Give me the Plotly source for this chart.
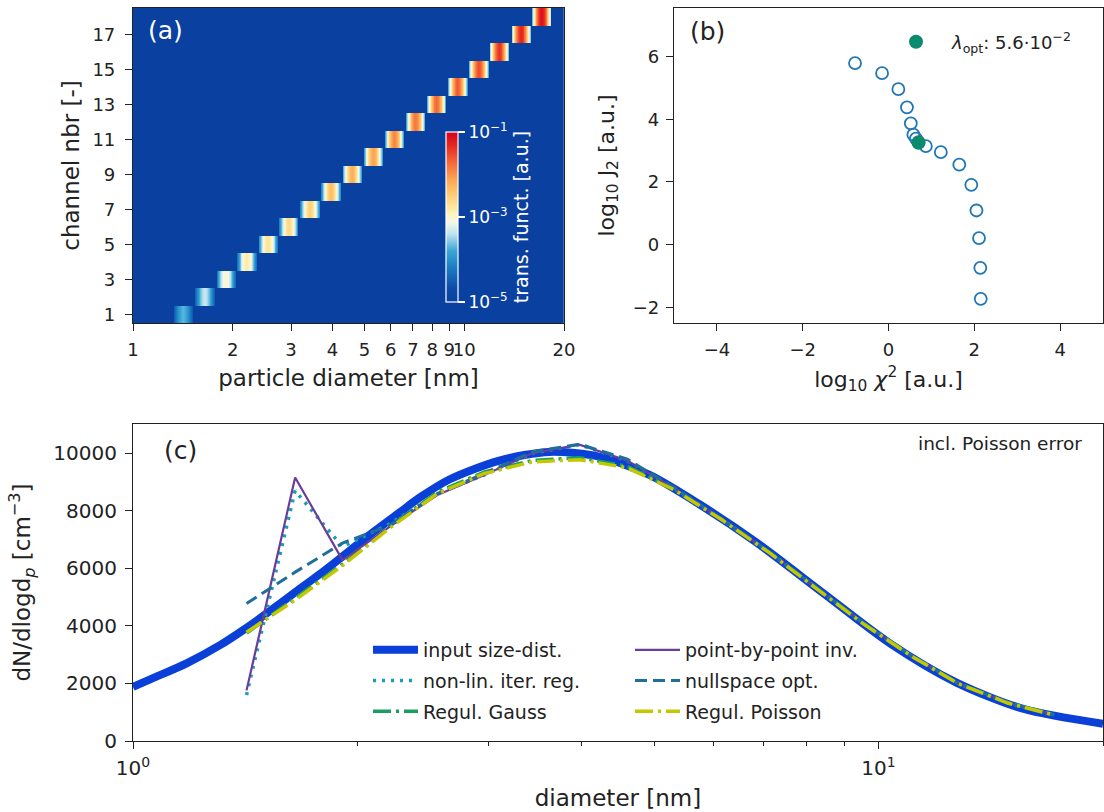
import numpy as np
import plotly.graph_objects as go

# ---------------- data ----------------
# (a) channel transfer functions
channel_nbr = list(range(1, 19))
channel_center_nm = [1.42, 1.65, 1.91, 2.21, 2.56, 2.96, 3.43, 3.97, 4.60,
                     5.33, 6.17, 7.15, 8.27, 9.58, 11.1, 12.8, 14.9, 17.2]
channel_peak_log = [-3.7, -3.35, -3.0, -2.8, -2.7, -2.6, -2.5, -2.3, -2.2,
                    -2.1, -1.9, -1.8, -1.7, -1.6, -1.5, -1.35, -1.25, -1.1]
channel_edge_log = [-4.6, -4.5, -4.4, -4.3, -4.2, -4.2, -4.1, -4.1, -4.0,
                    -4.0, -4.0, -3.9, -3.9, -3.9, -3.8, -3.8, -3.7, -3.7]
# kernel shape across one channel: offset in decades of diameter and
# fraction of the way from edge level to peak level
kernel_offset_dec = [-0.029, -0.022, -0.0145, -0.007, 0.0, 0.007, 0.0145, 0.022, 0.029]
kernel_frac = [0.0, 0.35, 0.7, 0.92, 1.0, 0.92, 0.7, 0.35, 0.0]
diam_ticks_a = [1, 2, 3, 4, 5, 6, 7, 8, 9, 10, 20]

# (b) L-curve
chi2_log = [-0.78, -0.15, 0.23, 0.43, 0.52, 0.58, 0.64, 0.70, 0.87,
            1.22, 1.65, 1.93, 2.05, 2.11, 2.14, 2.15]
j2_log = [5.79, 5.47, 4.96, 4.38, 3.87, 3.51, 3.38, 3.27, 3.14,
          2.95, 2.55, 1.91, 1.09, 0.21, -0.74, -1.73]
opt_chi2_log = [0.70]
opt_j2_log = [3.25]

# (c) size distributions
input_d = [1.00, 1.06, 1.18, 1.31, 1.41, 1.51, 1.64, 1.78, 1.87, 2.08, 2.28, 2.42,
           2.66, 3.10, 3.62, 4.23, 4.93, 5.75, 6.86, 8.42, 10.35, 12.72, 15.62, 20.0]
input_n = [1880, 2170, 2700, 3340, 3880, 4430, 5120, 5800, 6230, 7180, 7950, 8450,
           9100, 9750, 10050, 9880, 9250, 8230, 6900, 5150, 3400, 2030, 1120, 600]

inv_d = channel_center_nm
pbp_n = [1760, 9160, 6290, 7450, 8550, 9250, 10000, 10300, 9750,
         8780, 7700, 6550, 5300, 4060, 2940, 2000, 1330, 910]
nonlin_n = [1600, 8700, 6750, 7550, 8600, 9250, 10000, 10300, 9750,
            8780, 7700, 6550, 5300, 4060, 2940, 2000, 1330, 910]
nullspace_n = [4780, 5870, 6880, 7500, 8600, 9300, 10050, 10320, 9800,
               8800, 7700, 6550, 5300, 4060, 2940, 2000, 1330, 910]
gauss_n = [3750, 4950, 6150, 7450, 8650, 9350, 9750, 9850, 9550,
           8750, 7700, 6550, 5300, 4060, 2940, 2000, 1330, 910]
poisson_n = [3780, 4900, 6100, 7400, 8600, 9300, 9700, 9780, 9500,
             8720, 7680, 6530, 5280, 4040, 2930, 1990, 1320, 900]

# ---------------- figure ----------------
W, H = 1104, 812
FONT = "DejaVu Sans"
INK = "#222222"


def fx(p):
    return p / W


def fy(p):
    return 1 - p / H


fig = go.Figure()

# transfer-function map on a fine log-diameter grid
xgrid = np.linspace(0, np.log10(20), 900)
zmap = []
for c, pk, ed in zip(channel_center_nm, channel_peak_log, channel_edge_log):
    rel = xgrid - np.log10(c)
    levels = ed + np.array(kernel_frac) * (pk - ed)
    row = np.interp(rel, kernel_offset_dec, levels, left=-5.0, right=-5.0)
    zmap.append(np.clip(row, -5.0, -1.0))

cscale = [[0.0, "#0a40a0"], [0.08, "#0d4aa8"], [0.2, "#1a7cc2"], [0.3, "#3aa6d6"],
          [0.4, "#bfe3f0"], [0.47, "#f4f8ea"], [0.52, "#fff3b8"], [0.62, "#fed17a"],
          [0.72, "#fca556"], [0.82, "#f4693a"], [0.92, "#e52a22"], [1.0, "#d4001c"]]

fig.add_trace(go.Heatmap(
    x=xgrid, y=channel_nbr, z=zmap, zmin=-5, zmax=-1, colorscale=cscale,
    xaxis="x", yaxis="y", hoverinfo="skip",
    colorbar=dict(
        x=fx(446), xanchor="left", y=fy(217), yanchor="middle",
        len=170, lenmode="pixels", thickness=12, thicknessmode="pixels",
        xpad=0, ypad=0, outlinecolor="white", outlinewidth=1.2,
        tickvals=[-5, -3, -1],
        ticktext=["10<sup>−5</sup>", "10<sup>−3</sup>", "10<sup>−1</sup>"],
        ticks="outside", ticklen=7, tickcolor="white", tickwidth=1.5,
        tickfont=dict(family=FONT, size=17, color="white"),
        title=dict(text="trans. funct. [a.u.]", side="right",
                   font=dict(family=FONT, size=19, color="white")),
    ),
))

# L-curve
fig.add_trace(go.Scatter(
    x=chi2_log, y=j2_log, mode="markers", xaxis="x2", yaxis="y2",
    marker=dict(symbol="circle-open", size=12, color="#1f77b4",
                line=dict(width=1.8, color="#1f77b4")),
    showlegend=False, hoverinfo="skip",
))
fig.add_trace(go.Scatter(
    x=opt_chi2_log, y=opt_j2_log, mode="markers", xaxis="x2", yaxis="y2",
    marker=dict(symbol="circle", size=14, color="#0c8a6e"),
    name="<i>λ</i><sub>opt</sub>: 5.6·10<sup>−2</sup>", legend="legend2",
    hoverinfo="skip",
))

# size distributions
fig.add_trace(go.Scatter(
    x=input_d, y=input_n, mode="lines",
    line=dict(color="#0a3fd8", width=8, shape="spline", smoothing=0.8),
    name="input size-dist.", xaxis="x3", yaxis="y3", legend="legend", legendgroup="g1",
))
fig.add_trace(go.Scatter(
    x=inv_d, y=nonlin_n, mode="lines", line=dict(color="#17a0b4", width=3.5, dash="3px,6px"),
    name="non-lin. iter. reg.", xaxis="x3", yaxis="y3", legend="legend", legendgroup="g2",
))
fig.add_trace(go.Scatter(
    x=inv_d, y=gauss_n, mode="lines",
    line=dict(color="#1b9e62", width=3.5, dash="18px,5px,3px,5px"),
    name="Regul. Gauss", xaxis="x3", yaxis="y3", legend="legend", legendgroup="g3",
))
fig.add_trace(go.Scatter(
    x=inv_d, y=pbp_n, mode="lines", line=dict(color="#6a3d9a", width=2.2),
    name="point-by-point inv.", xaxis="x3", yaxis="y3", legend="legend3", legendgroup="g4",
))
fig.add_trace(go.Scatter(
    x=inv_d, y=nullspace_n, mode="lines", line=dict(color="#1f6e9c", width=3, dash="12px,6px"),
    name="nullspace opt.", xaxis="x3", yaxis="y3", legend="legend3", legendgroup="g5",
))
fig.add_trace(go.Scatter(
    x=inv_d, y=poisson_n, mode="lines",
    line=dict(color="#c4c800", width=3.5, dash="18px,5px,3px,5px"),
    name="Regul. Poisson", xaxis="x3", yaxis="y3", legend="legend3", legendgroup="g6",
))

axis_common = dict(showline=True, linecolor=INK, linewidth=1.2, mirror=True,
                   ticks="outside", ticklen=7, tickwidth=1.2, tickcolor=INK,
                   showgrid=False, zeroline=False, automargin=False, tickangle=0,
                   tickfont=dict(family=FONT, size=18, color=INK))

legend_common = dict(bgcolor="rgba(0,0,0,0)", borderwidth=0,
                     font=dict(family=FONT, size=19, color=INK),
                     xanchor="left", yanchor="top", tracegroupgap=3,
                     itemwidth=45)

fig.update_layout(
    width=W, height=H, margin=dict(l=0, r=0, t=0, b=0, autoexpand=False),
    paper_bgcolor="white", plot_bgcolor="white",
    font=dict(family=FONT, color=INK),
    xaxis=dict(axis_common, domain=[fx(133), fx(564)], anchor="y",
               range=[0, np.log10(20)], ticklabelstandoff=3,
               tickvals=np.log10(diam_ticks_a).tolist(),
               ticktext=[str(v) for v in diam_ticks_a],
               title=dict(text="particle diameter [nm]", standoff=11,
                          font=dict(family=FONT, size=23, color=INK))),
    yaxis=dict(axis_common, domain=[fy(323), fy(8)], anchor="x",
               range=[0.5, 18.5], tickvals=list(range(1, 18, 2)), ticklabelstandoff=6,
               title=dict(text="channel nbr [-]", standoff=6,
                          font=dict(family=FONT, size=23, color=INK))),
    xaxis2=dict(axis_common, domain=[fx(674), fx(1103)], anchor="y2",
                range=[-5, 5], tickvals=[-4, -2, 0, 2, 4], ticklabelstandoff=3,
                title=dict(text="log<sub>10</sub> <i>χ</i><sup>2</sup> [a.u.]", standoff=12,
                           font=dict(family=FONT, size=22, color=INK))),
    yaxis2=dict(axis_common, domain=[fy(323), fy(8)], anchor="x2",
                range=[-2.5, 7.55], tickvals=[-2, 0, 2, 4, 6], ticklabelstandoff=3,
                title=dict(text="log<sub>10</sub> J<sub>2</sub> [a.u.]", standoff=12,
                           font=dict(family=FONT, size=22, color=INK))),
    xaxis3=dict(axis_common, domain=[fx(133), fx(1103)], anchor="y3", type="log",
                range=[0, np.log10(20)], tickvals=[1, 10], ticklabelstandoff=2,
                ticktext=["10<sup>0</sup>", "10<sup>1</sup>"],
                tickfont=dict(family=FONT, size=20, color=INK),
                minor=dict(tickvals=[2, 3, 4, 5, 6, 7, 8, 9, 20], ticks="outside",
                           ticklen=4, tickcolor=INK, showgrid=False),
                title=dict(text="diameter [nm]", standoff=10,
                           font=dict(family=FONT, size=23, color=INK))),
    yaxis3=dict(axis_common, domain=[fy(741), fy(424)], anchor="x3",
                range=[0, 11020], tickvals=[0, 2000, 4000, 6000, 8000, 10000],
                tickformat="d", tickfont=dict(family=FONT, size=20, color=INK),
                ticklabelstandoff=4,
                title=dict(text="dN/dlogd<sub><i>p</i></sub> [cm<sup>−3</sup>]", standoff=16,
                           font=dict(family=FONT, size=23, color=INK))),
    legend=dict(legend_common, x=fx(368), y=fy(631), traceorder="grouped"),
    legend3=dict(legend_common, x=fx(630), y=fy(631), traceorder="grouped"),
    legend2=dict(bgcolor="rgba(0,0,0,0)", font=dict(family=FONT, size=18, color=INK),
                 x=fx(880), y=fy(42), xanchor="left", yanchor="middle", itemwidth=62),
    annotations=[
        dict(text="(a)", x=fx(146), y=fy(30), xref="paper", yref="paper",
             xanchor="left", yanchor="middle", showarrow=False,
             font=dict(family=FONT, size=25, color="white")),
        dict(text="(b)", x=fx(688), y=fy(32), xref="paper", yref="paper",
             xanchor="left", yanchor="middle", showarrow=False,
             font=dict(family=FONT, size=25, color=INK)),
        dict(text="(c)", x=fx(162), y=fy(450), xref="paper", yref="paper",
             xanchor="left", yanchor="middle", showarrow=False,
             font=dict(family=FONT, size=25, color=INK)),
        dict(text="incl. Poisson error", x=fx(1084), y=fy(443), xref="paper", yref="paper",
             xanchor="right", yanchor="middle", showarrow=False,
             font=dict(family=FONT, size=18.5, color=INK)),
    ],
)

fig.write_html("out.html")
